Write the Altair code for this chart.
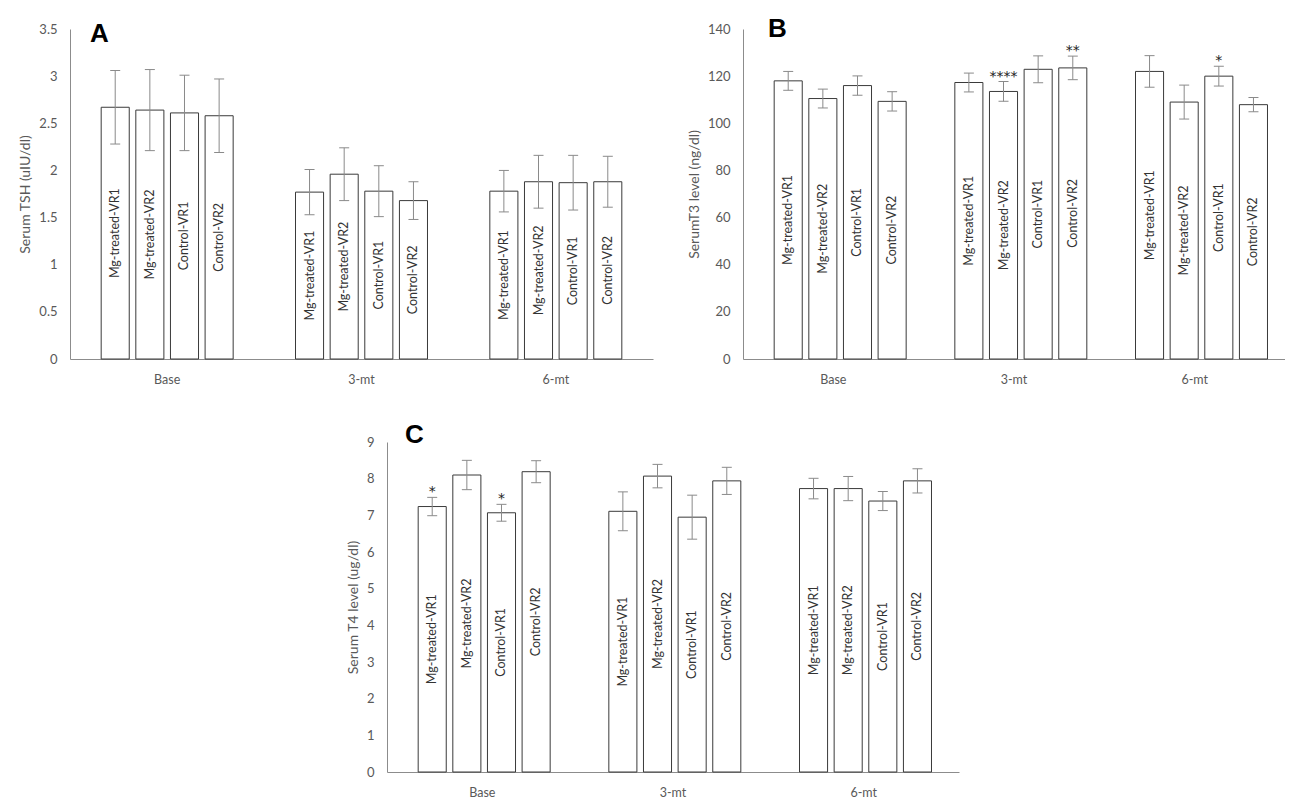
import altair as alt
import pandas as pd

times = ["Base", "3-mt", "6-mt"]
groups = ["Mg-treated-VR1", "Mg-treated-VR2", "Control-VR1", "Control-VR2"]

# Panel A: Serum TSH
tsh_mean = [2.67, 2.64, 2.61, 2.58, 1.77, 1.96, 1.78, 1.68, 1.78, 1.88, 1.87, 1.88]
tsh_err = [0.39, 0.43, 0.40, 0.39, 0.24, 0.28, 0.27, 0.20, 0.22, 0.28, 0.29, 0.27]
tsh_star = ["", "", "", "", "", "", "", "", "", "", "", ""]
tsh_ticks = [0, 0.5, 1, 1.5, 2, 2.5, 3, 3.5]

# Panel B: Serum T3
t3_mean = [118.0, 110.5, 116.0, 109.3, 117.3, 113.5, 122.9, 123.5, 122.0, 109.0, 120.0, 107.9]
t3_err = [4.0, 4.0, 4.1, 4.1, 4.0, 4.2, 5.7, 5.0, 6.7, 7.2, 4.2, 3.0]
t3_star = ["", "", "", "", "", "****", "", "**", "", "", "*", ""]
t3_ticks = [0, 20, 40, 60, 80, 100, 120, 140]

# Panel C: Serum T4
t4_mean = [7.24, 8.10, 7.07, 8.19, 7.11, 8.07, 6.95, 7.94, 7.73, 7.73, 7.39, 7.94]
t4_err = [0.25, 0.40, 0.23, 0.30, 0.53, 0.32, 0.60, 0.37, 0.28, 0.33, 0.26, 0.33]
t4_star = ["*", "", "*", "", "", "", "", "", "", "", "", ""]
t4_ticks = [0, 1, 2, 3, 4, 5, 6, 7, 8, 9]

FONT = "Lato"
ERR_COLOR = "#8a8a8a"
BAR_STROKE = "#3a3a3a"


def panel(mean, err, star, ytitle, ticks, width, height, letter, lx, ly, pi, po):
    df = pd.DataFrame({
        "time": [t for t in times for _ in groups],
        "group": groups * len(times),
        "value": mean,
        "err": err,
        "star": star,
    })
    base = alt.Chart(df).transform_calculate(
        lo="datum.value - datum.err",
        hi="datum.value + datum.err",
        mid="datum.value / 2",
    )
    x = alt.X("time:N", sort=times,
              scale=alt.Scale(paddingInner=0, paddingOuter=0),
              axis=alt.Axis(title=None, labelAngle=0))
    xo = alt.XOffset("group:N", sort=groups,
                     scale=alt.Scale(paddingInner=pi, paddingOuter=po))
    ysc = alt.Scale(domain=[ticks[0], ticks[-1]], nice=False, zero=True)
    yaxis = alt.Axis(values=ticks, format="~r", labelOverlap=False)

    bars = base.mark_bar(fill="white", stroke=BAR_STROKE, strokeWidth=1).encode(
        x=x, xOffset=xo,
        y=alt.Y("value:Q", scale=ysc, title=ytitle, axis=yaxis),
    )
    rule = base.mark_rule(color=ERR_COLOR, strokeWidth=1).encode(
        x=x, xOffset=xo,
        y=alt.Y("lo:Q", scale=ysc, title=ytitle, axis=yaxis), y2="hi:Q")
    cap_lo = base.mark_tick(color=ERR_COLOR, size=10, thickness=1, opacity=1).encode(
        x=x, xOffset=xo, y=alt.Y("lo:Q", scale=ysc, title=ytitle, axis=yaxis))
    cap_hi = base.mark_tick(color=ERR_COLOR, size=10, thickness=1, opacity=1).encode(
        x=x, xOffset=xo, y=alt.Y("hi:Q", scale=ysc, title=ytitle, axis=yaxis))
    labels = base.mark_text(angle=270, align="center", baseline="middle",
                            font=FONT, fontSize=12.5, color="#333333").encode(
        x=x, xOffset=xo, y=alt.Y("mid:Q", scale=ysc, title=ytitle, axis=yaxis),
        text="group:N")
    stars = base.mark_text(align="center", baseline="alphabetic", dy=-1,
                           font="DejaVu Sans", fontSize=14, color="#222222").encode(
        x=x, xOffset=xo, y=alt.Y("hi:Q", scale=ysc, title=ytitle, axis=yaxis),
        text="star:N")
    let = alt.Chart(pd.DataFrame({"t": [letter]})).mark_text(
        align="left", baseline="alphabetic", font="Liberation Sans",
        fontSize=26, fontWeight="bold", color="black").encode(
        x=alt.value(lx), y=alt.value(ly), text="t:N")
    return alt.layer(bars, rule, cap_lo, cap_hi, labels, stars, let).properties(
        width=width, height=height)


H = 330
A = panel(tsh_mean, tsh_err, tsh_star, "Serum TSH (uIU/dl)", tsh_ticks,
          583, H, "A", 20, 13, 0.19, 0.9)
B = panel(t3_mean, t3_err, t3_star, "SerumT3 level (ng/dl)", t3_ticks,
          542, H, "B", 25, 8, 0.19, 0.76)
C = panel(t4_mean, t4_err, t4_star, "Serum T4 level (ug/dl)", t4_ticks,
          572, H, "C", 18, 1, 0.19, 0.9)

spacer = alt.Chart(pd.DataFrame({"t": [""]})).mark_text().encode(
    x=alt.value(0), y=alt.value(0), text="t:N"
).properties(width=276, height=10)

chart = alt.vconcat(
    alt.hconcat(A, B, spacing=34),
    alt.hconcat(spacer, C, spacing=0),
    spacing=36,
).properties(
    padding={"left": 10, "top": 8, "right": 0, "bottom": 0}
).configure_view(stroke=None).configure_axis(
    labelFont=FONT, labelColor="#595959", labelFontSize=13,
    titleFont=FONT, titleColor="#595959", titleFontSize=14,
    titleFontWeight="normal", domainColor="#8c8c8c", domainWidth=1,
    grid=False, ticks=False, tickSize=0,
).configure_axisY(
    labelPadding=13, titlePadding=6,
).configure_axisX(
    labelPadding=14, labelFontSize=12.5,
)

chart.save("out.html", embed_options={"renderer": "svg", "actions": False})
